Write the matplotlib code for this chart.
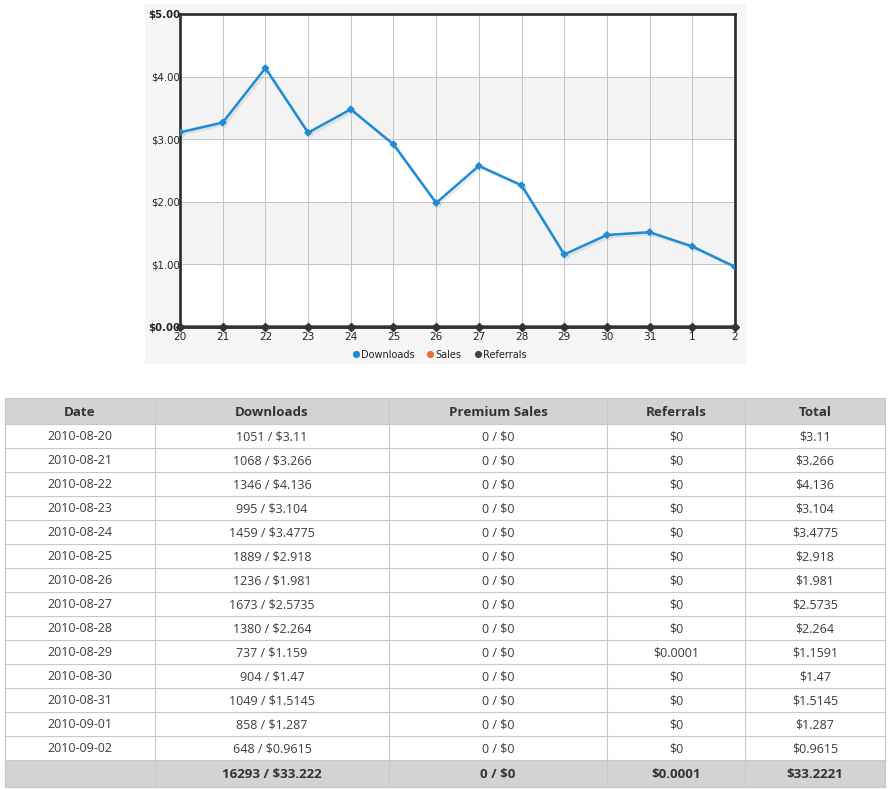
import matplotlib
matplotlib.use("Agg")
import matplotlib.pyplot as plt
from matplotlib.patches import Rectangle
import matplotlib.patheffects as pe

# ---------------- data ----------------
days = ['20', '21', '22', '23', '24', '25', '26', '27', '28', '29', '30', '31', '1', '2']
dates = ['2010-08-20', '2010-08-21', '2010-08-22', '2010-08-23', '2010-08-24', '2010-08-25',
         '2010-08-26', '2010-08-27', '2010-08-28', '2010-08-29', '2010-08-30', '2010-08-31',
         '2010-09-01', '2010-09-02']
download_counts = [1051, 1068, 1346, 995, 1459, 1889, 1236, 1673, 1380, 737, 904, 1049, 858, 648]
download_dollars = [3.11, 3.266, 4.136, 3.104, 3.4775, 2.918, 1.981, 2.5735, 2.264, 1.159,
                    1.47, 1.5145, 1.287, 0.9615]
sales_counts = [0] * 14
sales_dollars = [0] * 14
referrals = [0, 0, 0, 0, 0, 0, 0, 0, 0, 0.0001, 0, 0, 0, 0]
totals = [3.11, 3.266, 4.136, 3.104, 3.4775, 2.918, 1.981, 2.5735, 2.264, 1.1591,
          1.47, 1.5145, 1.287, 0.9615]
total_downloads = 16293
total_download_dollars = 33.222
total_sales = 0
total_sales_dollars = 0
total_referrals = 0.0001
grand_total = 33.2221

y_ticks = [0, 1, 2, 3, 4, 5]
headers = ['Date', 'Downloads', 'Premium Sales', 'Referrals', 'Total']
legend_labels = ['Downloads', 'Sales', 'Referrals']

# ---------------- styling ----------------
W, H = 888, 790
BLUE = '#1e8bd6'
ORANGE = '#f06a3f'
DARK = '#444444'
table_font = ['Open Sans', 'DejaVu Sans']
chart_font = ['DejaVu Sans']


def money(v):
    if v == 0:
        return '$0'
    return '$' + repr(v)


fig = plt.figure(figsize=(W / 100, H / 100), dpi=100, facecolor='white')

# overlay axes in pixel coordinates
ov = fig.add_axes([0, 0, 1, 1], zorder=0)
ov.set_xlim(0, W)
ov.set_ylim(H, 0)
ov.axis('off')

# chart panel background
ov.add_patch(Rectangle((145, 4), 601, 360, facecolor='#f6f6f6', edgecolor='none'))

# ---------------- chart ----------------
L, R, T, B = 180, 735, 14, 327
ax = fig.add_axes([L / W, 1 - B / H, (R - L) / W, (B - T) / H], zorder=2)
ax.set_facecolor('white')
x = list(range(len(days)))
ax.set_xlim(0, len(days) - 1)
ax.set_ylim(0, 5)

for lo in (1, 3):
    ax.axhspan(lo, lo + 1, color='#f3f3f3', zorder=0, lw=0)

ax.set_xticks(x)
ax.set_xticklabels(days, fontsize=7.6, color='#222222', family=chart_font)
ax.set_yticks(y_ticks)
ax.set_yticklabels(['$%.2f' % v for v in y_ticks], fontsize=7.3, color='#222222', family=chart_font)
for i, lab in enumerate(ax.get_yticklabels()):
    if i in (0, len(y_ticks) - 1):
        lab.set_fontweight('bold')
ax.tick_params(axis='both', length=0)
ax.tick_params(axis='y', pad=0)
ax.tick_params(axis='x', pad=3.5)
ax.grid(True, color='#c4c4c4', lw=0.7, zorder=1)
ax.set_axisbelow(True)
for s in ax.spines.values():
    s.set_color('#2b2b2b')
    s.set_linewidth(1.9)
    s.set_zorder(3)

ax.plot(x, download_dollars, color=BLUE, lw=1.8, marker='D', ms=3.2, zorder=5,
        path_effects=[pe.SimpleLineShadow(offset=(1.5, -1.5), shadow_color='#000000', alpha=0.08),
                      pe.Normal()])
ax.plot(x, sales_dollars, color=ORANGE, lw=0.8, marker='D', ms=2.0, zorder=6, clip_on=False)
ax.plot(x, referrals, color='#333333', lw=2.4, marker='D', ms=3.6, zorder=7, clip_on=False)

# legend (manual, below chart)
leg_items = [(356, BLUE, legend_labels[0]), (430, ORANGE, legend_labels[1]), (478, DARK, legend_labels[2])]
for xp, col, lab in leg_items:
    ov.plot([xp], [353.5], 'o', color=col, ms=5.2, mec='none')
    ov.text(xp + 5, 355.5, lab, fontsize=7.0, color='#222222', va='center', ha='left',
            family=chart_font)

# ---------------- table ----------------
col_edges = [5, 155, 389, 607, 745, 885]
header_top, header_h = 398, 26
row_h = 24
rows_top = header_top + header_h
n = len(dates)
footer_top = rows_top + n * row_h
footer_h = 27
grid_col = '#c8c8c8'
head_bg = '#d3d3d3'

ov.add_patch(Rectangle((col_edges[0], header_top), col_edges[-1] - col_edges[0], header_h,
                       facecolor=head_bg, edgecolor='none'))
ov.add_patch(Rectangle((col_edges[0], footer_top), col_edges[-1] - col_edges[0], footer_h,
                       facecolor=head_bg, edgecolor='none'))

# horizontal lines
for i in range(n + 1):
    yy = rows_top + i * row_h
    ov.plot([col_edges[0], col_edges[-1]], [yy, yy], color=grid_col, lw=0.8)
ov.plot([col_edges[0], col_edges[-1]], [header_top, header_top], color=grid_col, lw=0.8)
ov.plot([col_edges[0], col_edges[-1]], [footer_top + footer_h] * 2, color=grid_col, lw=0.8)
# vertical lines
for xe in col_edges:
    ov.plot([xe, xe], [header_top, footer_top + footer_h], color=grid_col, lw=0.8)

centers = [(col_edges[i] + col_edges[i + 1]) / 2 for i in range(5)]
for c, h in zip(centers, headers):
    ov.text(c, header_top + header_h / 2 + 1, h, ha='center', va='center', fontsize=9.6,
            fontweight='bold', color='#333333', family=table_font)

for i in range(n):
    yc = rows_top + i * row_h + row_h / 2 + 1
    vals = [dates[i],
            '%d / %s' % (download_counts[i], money(download_dollars[i])),
            '%d / %s' % (sales_counts[i], money(sales_dollars[i])),
            money(referrals[i]),
            money(totals[i])]
    for c, v in zip(centers, vals):
        ov.text(c, yc, v, ha='center', va='center', fontsize=9.0, color='#3c3c3c',
                family=table_font)

foot_vals = ['',
             '%d / %s' % (total_downloads, money(total_download_dollars)),
             '%d / %s' % (total_sales, money(total_sales_dollars)),
             money(total_referrals),
             money(grand_total)]
yc = footer_top + footer_h / 2 + 1
for c, v in zip(centers, foot_vals):
    ov.text(c, yc, v, ha='center', va='center', fontsize=9.6, fontweight='bold',
            color='#333333', family=table_font)

fig.savefig('out.png', dpi=100, facecolor='white')
